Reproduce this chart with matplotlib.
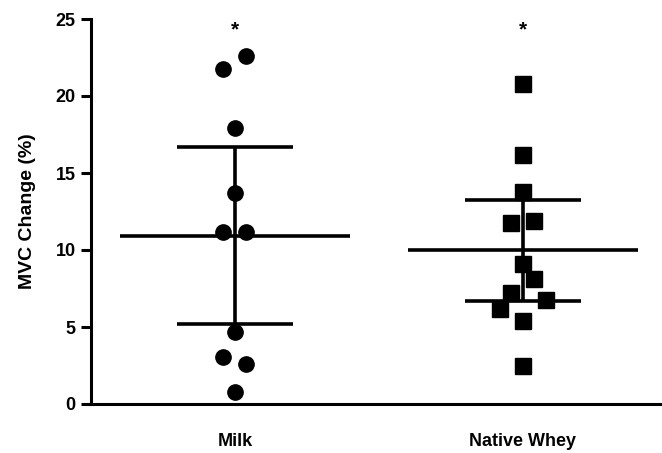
import numpy as np
import matplotlib
matplotlib.use("Agg")
import matplotlib.pyplot as plt

plt.rcParams['font.family'] = ['Liberation Sans', 'DejaVu Sans']
plt.rcParams['font.weight'] = 'bold'

# data (MVC change, %)
groups = ['Milk', 'Native Whey']
milk = [22.6, 21.75, 17.9, 13.7, 11.15, 11.15, 4.66, 3.05, 2.6, 0.78]
whey = [20.8, 16.2, 13.75, 11.75, 11.9, 9.1, 8.1, 7.2, 6.75, 6.2, 5.4, 2.5]
stars = ['*', '*']

# horizontal scatter of overlapping points (fraction of category spacing)
milk_jit = [0.04, -0.04, 0, 0, -0.04, 0.04, 0, -0.04, 0.04, 0]
whey_jit = [0, 0, 0, -0.04, 0.04, 0, 0.04, -0.04, 0.08, -0.08, 0, 0]

# two-sided 95% t critical values by degrees of freedom
t_crit = {9: 2.262, 11: 2.201}

fig = plt.figure(figsize=(6.62, 4.53), dpi=100)
ax = fig.add_axes([91 / 662, 49 / 453, 571 / 662, 385 / 453])

lw = 2.6
markers = ['o', 's']
for i, (vals, jit) in enumerate([(milk, milk_jit), (whey, whey_jit)]):
    v = np.array(vals)
    n = len(v)
    m = v.mean()
    ci = t_crit[n - 1] * v.std(ddof=1) / np.sqrt(n)

    # mean line, CI bar and caps
    ax.plot([i - 0.4, i + 0.4], [m, m], color='black', lw=lw, solid_capstyle='butt')
    ax.plot([i, i], [m - ci, m + ci], color='black', lw=lw, solid_capstyle='butt')
    for y in (m - ci, m + ci):
        ax.plot([i - 0.2, i + 0.2], [y, y], color='black', lw=lw, solid_capstyle='butt')

    ax.plot(i + np.array(jit), v, linestyle='none', marker=markers[i],
            markersize=11, color='black', clip_on=False, zorder=3)

    ax.text(i, 24.3, stars[i], ha='center', va='center', fontsize=15,
            fontweight='bold')

ax.set_xlim(-0.5, 1.483)
ax.set_ylim(0, 25)
ax.set_yticks([0, 5, 10, 15, 20, 25])
ax.set_xticks([0, 1])
ax.set_xticklabels(groups)

for side in ['top', 'right']:
    ax.spines[side].set_visible(False)
for side in ['left', 'bottom']:
    ax.spines[side].set_linewidth(2.2)

ax.tick_params(axis='y', length=7, width=2.2, labelsize=13, pad=4)
ax.tick_params(axis='x', length=0, labelsize=13, pad=21)
ax.set_ylabel('MVC Change (%)', fontsize=14, fontweight='bold', labelpad=14)

fig.savefig('out.png', dpi=100)
